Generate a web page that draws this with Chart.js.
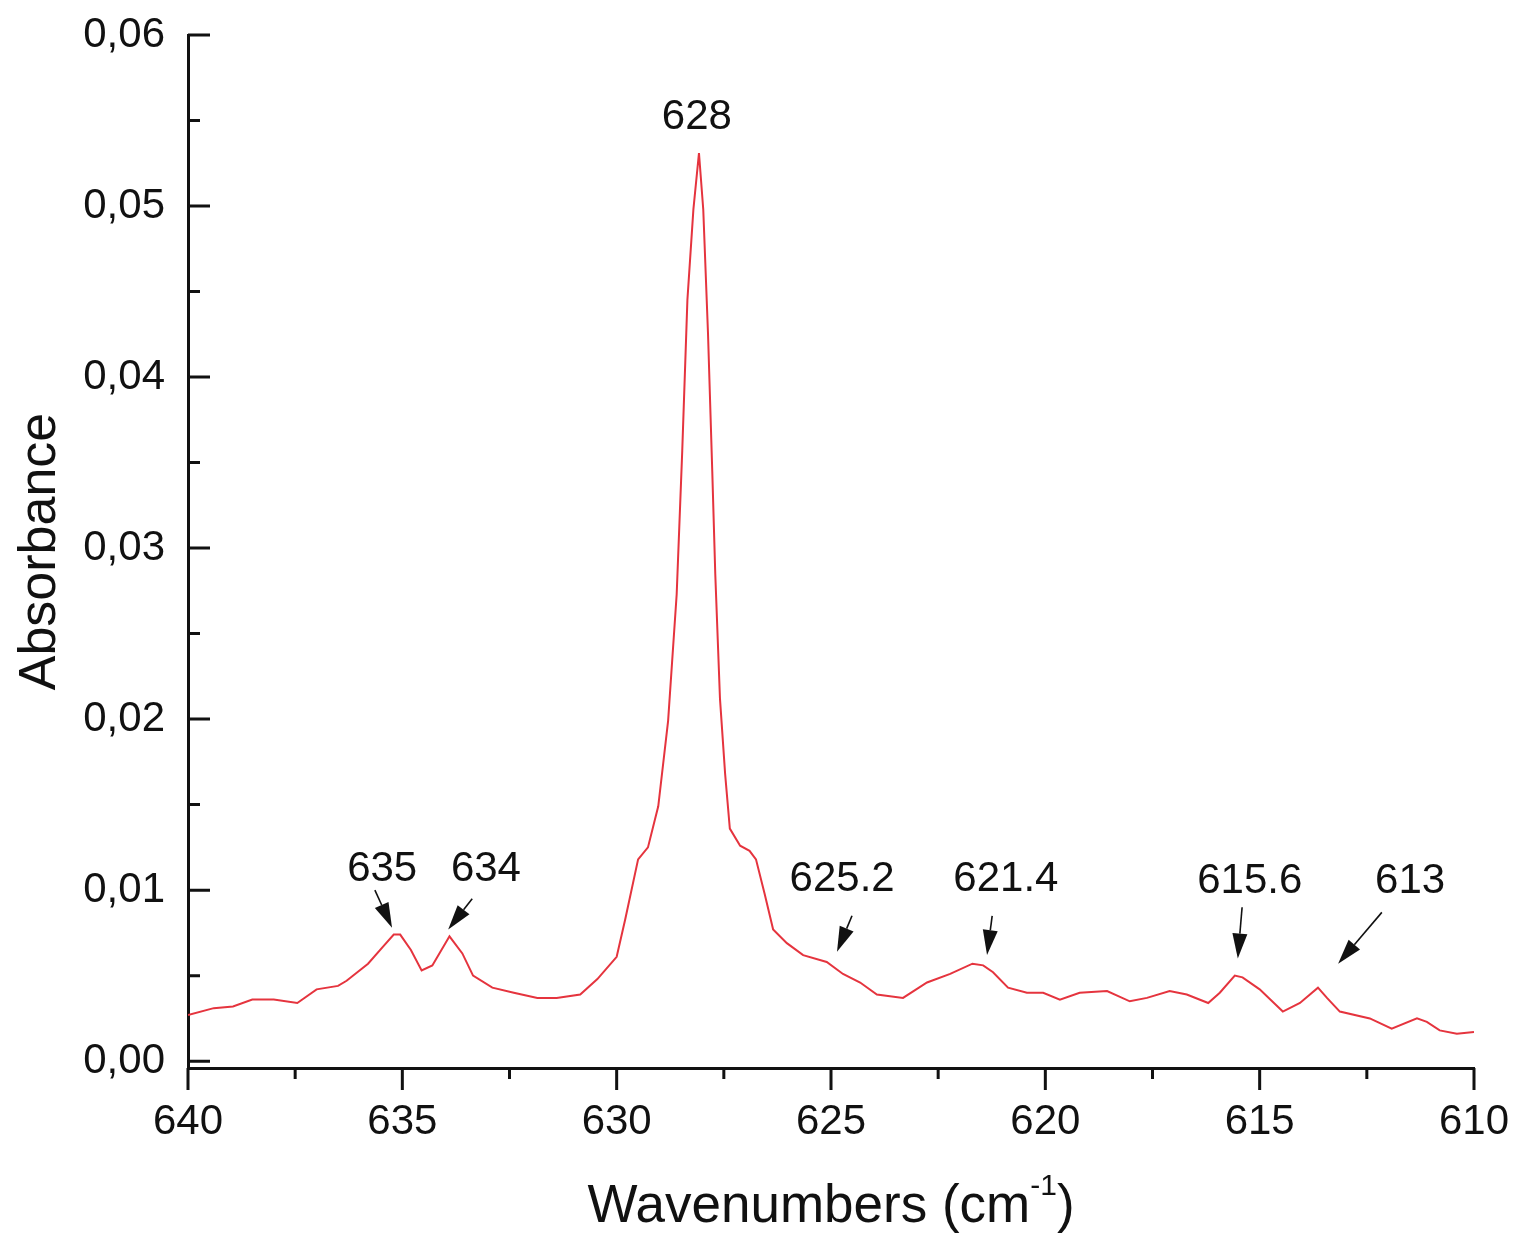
<!DOCTYPE html>
<html>
<head>
<meta charset="utf-8">
<title>Absorbance spectrum</title>
<script src="https://cdn.jsdelivr.net/npm/chart.js@4.4.1/dist/chart.umd.min.js"></script>
<style>
  html, body { margin: 0; padding: 0; background: #fff; }
  canvas { display: block; }
</style>
</head>
<body>
<canvas id="spectrumChart" width="1516" height="1241"></canvas>
<script>
/* ========= DATA ========= */

const wavenumbers = [
  640.0, 639.4, 638.95, 638.5, 638.0, 637.45, 637.0, 636.5, 636.3, 635.8,
  635.45, 635.2, 635.05, 634.8, 634.55, 634.3, 633.9, 633.6, 633.35, 632.9,
  632.4, 631.85, 631.4, 630.85, 630.45, 630.0, 629.8, 629.5, 629.27, 629.03,
  628.8, 628.6, 628.47, 628.35, 628.21, 628.08, 627.98, 627.87, 627.77, 627.7,
  627.59, 627.47, 627.36, 627.12, 626.9, 626.75, 626.55, 626.35, 626.03, 625.65,
  625.1, 624.72, 624.32, 623.93, 623.32, 622.76, 622.22, 621.7, 621.45, 621.22,
  620.87, 620.43, 620.05, 619.66, 619.2, 618.56, 618.03, 617.63, 617.1, 616.7,
  616.2, 615.93, 615.58, 615.4, 615.0, 614.46, 614.06, 613.64, 613.43, 613.13,
  612.43, 611.92, 611.33, 611.1, 610.8, 610.4, 610.0
];

const absorbance = [
  0.0027, 0.0031, 0.0032, 0.0036, 0.0036, 0.0034, 0.0042, 0.0044, 0.0047, 0.0057,
  0.0067, 0.0074, 0.0074, 0.0065, 0.0053, 0.0056, 0.0073, 0.0063, 0.0050, 0.0043,
  0.0040, 0.0037, 0.0037, 0.0039, 0.0048, 0.0061, 0.0083, 0.0118, 0.0125, 0.0149,
  0.0199, 0.0273, 0.0357, 0.0445, 0.0498, 0.0531, 0.0498, 0.0426, 0.0345, 0.0285,
  0.0212, 0.0168, 0.0136, 0.0126, 0.0123, 0.0118, 0.0098, 0.0077, 0.0069, 0.0062,
  0.0058, 0.0051, 0.0046, 0.0039, 0.0037, 0.0046, 0.0051, 0.0057, 0.0056, 0.0052,
  0.0043, 0.0040, 0.0040, 0.0036, 0.0040, 0.0041, 0.0035, 0.0037, 0.0041, 0.0039,
  0.0034, 0.0040, 0.0050, 0.0049, 0.0042, 0.0029, 0.0034, 0.0043, 0.0037, 0.0029,
  0.0025, 0.0019, 0.0025, 0.0023, 0.0018, 0.0016, 0.0017
];

const xTicks = [640, 635, 630, 625, 620, 615, 610];
const yTicks = [0, 0.01, 0.02, 0.03, 0.04, 0.05, 0.06];

const peakLabels = ["635", "634", "628", "625.2", "621.4", "615.6", "613"];
// label centre, arrow tail and arrow tip, in data units (wavenumber, absorbance)
const labelAt = [
  [635.47, 0.0112], [633.05, 0.0112], [628.13, 0.0552], [624.74, 0.0106],
  [620.92, 0.0106], [615.23, 0.0105], [611.49, 0.0105]
];
const arrowFrom = [
  [635.64, 0.0100], [633.37, 0.0095], null, [624.51, 0.0085],
  [621.24, 0.0085], [615.41, 0.0090], [612.15, 0.0087]
];
const arrowTo = [
  [635.24, 0.0078], [633.93, 0.0077], null, [624.86, 0.0064],
  [621.36, 0.0062], [615.51, 0.0060], [613.17, 0.0057]
];

/* ========= DRAWING ========= */

const FONT = '"Liberation Sans", Arial, Helvetica, sans-serif';
const INK = "#111111";

const axisDecor = {
  id: "axisDecor",
  afterDraw(chart) {
    const { ctx, chartArea: area, scales: { x, y } } = chart;
    ctx.save();

    // ticks: x outward (down), y inward (right)
    ctx.strokeStyle = INK;
    ctx.lineWidth = 3;
    ctx.beginPath();
    xTicks.forEach((v, i) => {
      const px = x.getPixelForValue(v);
      ctx.moveTo(px, area.bottom);
      ctx.lineTo(px, area.bottom + 22);
      if (i < xTicks.length - 1) {
        const pm = x.getPixelForValue((v + xTicks[i + 1]) / 2);
        ctx.moveTo(pm, area.bottom);
        ctx.lineTo(pm, area.bottom + 11);
      }
    });
    yTicks.forEach((v, i) => {
      const py = y.getPixelForValue(v);
      ctx.moveTo(area.left, py);
      ctx.lineTo(area.left + 22, py);
      if (i < yTicks.length - 1) {
        const pm = y.getPixelForValue((v + yTicks[i + 1]) / 2);
        ctx.moveTo(area.left, pm);
        ctx.lineTo(area.left + 12, pm);
      }
    });
    ctx.stroke();

    // peak labels
    ctx.fillStyle = INK;
    ctx.font = "42px " + FONT;
    ctx.textAlign = "center";
    ctx.textBaseline = "middle";
    peakLabels.forEach((t, i) => {
      ctx.fillText(t, x.getPixelForValue(labelAt[i][0]), y.getPixelForValue(labelAt[i][1]));
    });

    // arrows
    peakLabels.forEach((t, i) => {
      if (!arrowFrom[i]) return;
      const x0 = x.getPixelForValue(arrowFrom[i][0]), y0 = y.getPixelForValue(arrowFrom[i][1]);
      const x1 = x.getPixelForValue(arrowTo[i][0]), y1 = y.getPixelForValue(arrowTo[i][1]);
      const ang = Math.atan2(y1 - y0, x1 - x0);
      const headLen = 25, headHalf = 7.5;
      const bx = x1 - headLen * Math.cos(ang), by = y1 - headLen * Math.sin(ang);
      ctx.lineWidth = 1.6;
      ctx.beginPath();
      ctx.moveTo(x0, y0);
      ctx.lineTo(bx, by);
      ctx.stroke();
      ctx.beginPath();
      ctx.moveTo(x1, y1);
      ctx.lineTo(bx + headHalf * Math.sin(ang), by - headHalf * Math.cos(ang));
      ctx.lineTo(bx - headHalf * Math.sin(ang), by + headHalf * Math.cos(ang));
      ctx.closePath();
      ctx.fill();
    });

    // x axis title with superscript
    const main = "Wavenumbers (cm", sup = "-1", close = ")";
    ctx.textAlign = "left";
    ctx.textBaseline = "alphabetic";
    ctx.font = "53px " + FONT;
    const wMain = ctx.measureText(main).width, wClose = ctx.measureText(close).width;
    ctx.font = "30px " + FONT;
    const wSup = ctx.measureText(sup).width;
    let tx = (area.left + area.right) / 2 - (wMain + wSup + wClose) / 2;
    const base = 1222;
    ctx.font = "53px " + FONT;
    ctx.fillText(main, tx, base);
    tx += wMain;
    ctx.font = "30px " + FONT;
    ctx.fillText(sup, tx, base - 27);
    tx += wSup;
    ctx.font = "53px " + FONT;
    ctx.fillText(close, tx, base);

    ctx.restore();
  }
};

const spectrumCtx = document.getElementById("spectrumChart");

new Chart(spectrumCtx, {
  type: "line",
  data: {
    datasets: [{
      label: "Absorbance",
      data: wavenumbers.map((w, i) => ({ x: w, y: absorbance[i] })),
      borderColor: "#e5343e",
      borderWidth: 2,
      tension: 0,
      pointRadius: 0,
      fill: false
    }]
  },
  options: {
    responsive: false,
    animation: false,
    layout: { padding: { top: 35, right: 42, left: 0, bottom: 0 } },
    plugins: {
      legend: { display: false },
      tooltip: { enabled: false }
    },
    scales: {
      x: {
        type: "linear",
        reverse: true,
        min: 610,
        max: 640,
        afterBuildTicks: s => { s.ticks = xTicks.map(v => ({ value: v })); },
        afterFit: s => { s.height = 173; s.paddingLeft = 0; s.paddingRight = 0; },
        grid: { display: false, drawTicks: false },
        border: { display: true, color: INK, width: 3 },
        ticks: {
          padding: 29,
          color: INK,
          maxRotation: 0,
          autoSkip: false,
          font: { size: 42, family: FONT }
        }
      },
      y: {
        min: -0.0004,
        max: 0.06,
        afterBuildTicks: s => { s.ticks = yTicks.map(v => ({ value: v })); },
        afterFit: s => { s.width = 188; s.paddingTop = 0; s.paddingBottom = 0; },
        grid: { display: false, drawTicks: false },
        border: { display: true, color: INK, width: 3 },
        ticks: {
          padding: 23,
          color: INK,
          font: { size: 42, family: FONT },
          callback: v => v.toFixed(2).replace(".", ",")
        },
        title: {
          display: true,
          text: "Absorbance",
          color: INK,
          font: { size: 52, family: FONT },
          padding: { top: 9, bottom: 0 }
        }
      }
    }
  },
  plugins: [axisDecor]
});
</script>
</body>
</html>
